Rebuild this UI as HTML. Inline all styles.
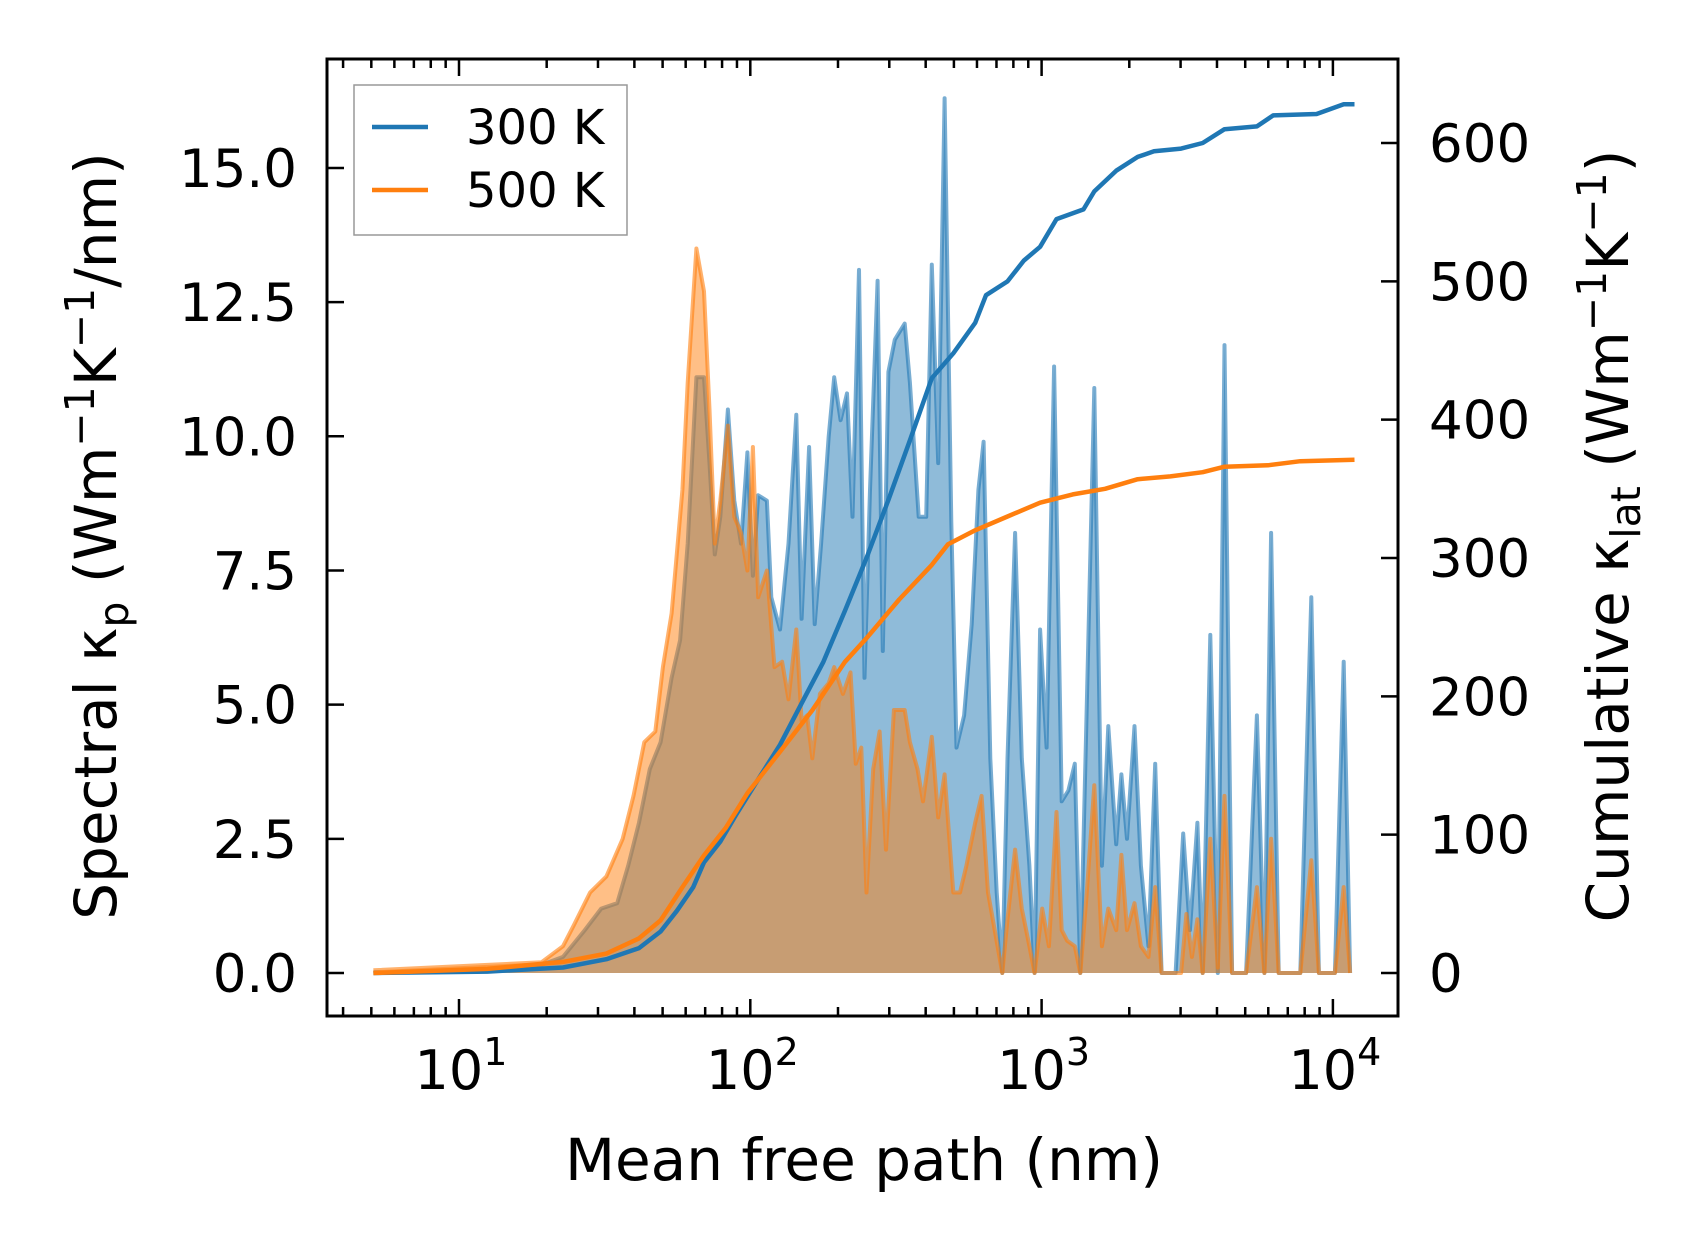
<!DOCTYPE html>
<html><head><meta charset="utf-8"><style>
html,body{margin:0;padding:0;background:#fff;}
svg{display:block;font-family:"DejaVu Sans","Liberation Sans",sans-serif;}
</style></head><body>
<svg id="chart" width="1698" height="1254" viewBox="0 0 1698 1254" xmlns="http://www.w3.org/2000/svg"></svg>
<script>
// ---- data ----
const logMfp300 = [0.706,1.097,1.283,1.357,1.432,1.488,1.543,1.581,1.618,1.655,1.692,1.730,1.759,1.785,1.815,1.841,1.860,1.878,1.897,1.923,1.945,1.968,1.990,2.009,2.027,2.057,2.072,2.102,2.131,2.158,2.176,2.202,2.221,2.243,2.269,2.288,2.310,2.332,2.351,2.373,2.392,2.411,2.437,2.455,2.474,2.496,2.530,2.548,2.578,2.604,2.623,2.645,2.667,2.690,2.708,2.734,2.760,2.783,2.801,2.824,2.846,2.865,2.883,2.909,2.932,2.958,2.976,2.995,3.017,3.043,3.069,3.092,3.114,3.133,3.155,3.181,3.207,3.229,3.256,3.274,3.293,3.319,3.341,3.367,3.390,3.412,3.460,3.486,3.509,3.535,3.553,3.579,3.605,3.628,3.654,3.702,3.739,3.765,3.788,3.814,3.888,3.926,3.952,4.007,4.037,4.059];
const spec300 = [0,0.05,0.15,0.3,0.8,1.2,1.3,2.0,2.8,3.8,4.3,5.5,6.2,8.0,11.1,11.1,9.5,7.8,8.5,10.5,8.8,8.0,9.7,7.4,8.9,8.8,7.0,6.4,8.0,10.4,6.6,9.8,6.5,8.0,10.0,11.1,10.3,10.8,8.5,13.1,5.5,9.0,12.9,6.0,11.2,11.8,12.1,11.0,8.5,8.5,13.2,9.5,16.3,8.4,4.2,4.8,6.5,9.0,9.9,4.0,1.5,0,4.0,8.2,4.0,2.0,0,6.4,4.2,11.3,3.2,3.4,3.9,0,5.0,10.9,2.0,4.6,2.4,3.7,2.5,4.6,2.0,0.5,3.9,0,0,2.6,0.8,2.8,0,6.3,0,11.7,0,0,4.8,0,8.2,0,0,7.0,0,0,5.8,0];
const logMfp500 = [0.706,1.097,1.283,1.357,1.395,1.450,1.506,1.562,1.599,1.636,1.674,1.700,1.730,1.767,1.785,1.815,1.841,1.860,1.878,1.897,1.923,1.945,1.968,1.990,2.009,2.027,2.057,2.083,2.109,2.131,2.158,2.176,2.195,2.213,2.239,2.269,2.288,2.318,2.344,2.362,2.381,2.399,2.422,2.444,2.466,2.493,2.530,2.548,2.574,2.593,2.623,2.645,2.667,2.697,2.720,2.742,2.772,2.794,2.816,2.839,2.865,2.883,2.909,2.932,2.958,2.976,3.002,3.025,3.051,3.069,3.088,3.114,3.133,3.155,3.181,3.207,3.229,3.256,3.274,3.293,3.319,3.341,3.367,3.390,3.412,3.479,3.497,3.516,3.535,3.553,3.579,3.605,3.628,3.654,3.702,3.739,3.765,3.788,3.814,3.888,3.926,3.952,4.007,4.037,4.059];
const spec500 = [0.05,0.15,0.2,0.5,0.9,1.5,1.8,2.5,3.3,4.3,4.5,5.7,6.7,9.0,11.0,13.5,12.7,10.5,8.0,8.8,10.2,8.5,8.2,7.5,9.8,7.0,7.5,5.7,5.8,5.1,6.4,4.7,4.8,4.0,5.2,5.4,5.7,5.2,5.6,3.9,4.2,1.5,3.8,4.5,2.3,4.9,4.9,4.3,3.8,3.2,4.4,2.9,3.7,1.5,1.5,2.0,2.8,3.3,1.5,0.8,0,1.0,2.3,1.2,0.5,0,1.2,0.5,3.0,0.8,0.6,0.5,0,1.5,3.5,0.5,1.2,0.8,2.2,0.8,1.3,0.5,0.3,1.6,0,0,1.1,0.3,1.0,0,2.5,0.1,3.3,0,0,1.6,0,2.5,0,0,2.1,0,0,1.6,0];
const logMfpCum = [0.706,1.097,1.357,1.506,1.618,1.692,1.748,1.804,1.841,1.897,1.953,2.027,2.102,2.176,2.251,2.325,2.399,2.474,2.548,2.623,2.697,2.772,2.809,2.883,2.939,2.995,3.051,3.144,3.181,3.256,3.330,3.386,3.479,3.553,3.628,3.739,3.795,3.944,4.037,4.074];
const cum300 = [0,1,4,10,18,30,45,62,80,95,115,140,165,195,225,262,300,342,385,430,448,470,490,500,515,525,545,552,565,580,590,594,596,600,610,612,620,621,628,628];
const logMfpCum500 = [0.706,1.097,1.357,1.506,1.618,1.692,1.767,1.841,1.916,1.990,2.102,2.213,2.325,2.399,2.511,2.623,2.679,2.772,2.883,2.995,3.107,3.218,3.330,3.442,3.553,3.628,3.777,3.888,4.074];
const cum500 = [0,3,8,14,25,38,62,85,105,130,160,190,225,242,270,295,310,320,330,340,346,350,357,359,362,366,367,370,371];
const yTicksLeft = [0,2.5,5,7.5,10,12.5,15];
const yTickLabelsLeft = ["0.0","2.5","5.0","7.5","10.0","12.5","15.0"];
const yTicksRight = [0,100,200,300,400,500,600];
const xDecades = [1,2,3,4];

// ---- axes ----
const L=327,R=1398,T=59,B=1016;
const X = lg => 459 + (lg-1)*291.3;
const YL = v => 973 - v*53.67;
const YR = v => 973 - v*1.3833;
const svg=document.getElementById('chart');
const NS='http://www.w3.org/2000/svg';
function mk(tag,attrs,parent){const e=document.createElementNS(NS,tag);for(const k in attrs)e.setAttribute(k,attrs[k]);(parent||svg).appendChild(e);return e;}

const plot=mk('g',{});


function areaPath(xs,ys,yf){let d='M'+X(xs[0])+','+yf(0);for(let i=0;i<xs.length;i++)d+=' L'+X(xs[i]).toFixed(1)+','+yf(ys[i]).toFixed(1);d+=' L'+X(xs[xs.length-1])+','+yf(0)+' Z';return d;}
function linePath(xs,ys,yf){let d='';for(let i=0;i<xs.length;i++)d+=(i?' L':'M')+X(xs[i]).toFixed(1)+','+yf(ys[i]).toFixed(1);return d;}

const a3=mk('path',{d:areaPath(logMfp300,spec300,YL),fill:'#1f77b4','fill-opacity':0.5,stroke:'none'},plot);


const l3=mk('path',{d:linePath(logMfp300,spec300,YL),fill:'none',stroke:'#1f77b4','stroke-opacity':0.6,'stroke-width':4,'stroke-linejoin':'round'},plot);


const a5=mk('path',{d:areaPath(logMfp500,spec500,YL),fill:'#ff7f0e','fill-opacity':0.5,stroke:'none'},plot);


const l5=mk('path',{d:linePath(logMfp500,spec500,YL),fill:'none',stroke:'#ff7f0e','stroke-opacity':0.6,'stroke-width':4,'stroke-linejoin':'round'},plot);


const c3=mk('path',{d:linePath(logMfpCum,cum300,YR),fill:'none',stroke:'#1f77b4','stroke-width':4.5,'stroke-linejoin':'round'},plot);


const c5=mk('path',{d:linePath(logMfpCum500,cum500,YR),fill:'none',stroke:'#ff7f0e','stroke-width':4.5,'stroke-linejoin':'round'},plot);



// frame
const fr=mk('rect',{x:L,y:T,width:R-L,height:B-T,fill:'none',stroke:'#000','stroke-width':3});



// x ticks
const xt=mk('g',{stroke:'#000','stroke-width':2.5});


for(let dec=0;dec<=4;dec++){for(let m=1;m<10;m++){const lg=dec+Math.log10(m);const x=X(lg);if(x<L+2||x>R-2)continue;const len=m===1?17:9;mk('line',{x1:x,y1:B,x2:x,y2:B-len},xt);mk('line',{x1:x,y1:T,x2:x,y2:T+len},xt);}}
xDecades.forEach(d=>{const t=mk('text',{x:X(d)+2,y:1089,'font-size':54,'text-anchor':'middle',fill:'#000'});t.textContent='10';const s=mk('tspan',{dy:-24,'font-size':38},t);s.textContent=String(d);});
// left ticks
yTicksLeft.forEach((v,i)=>{mk('line',{x1:L,y1:YL(v),x2:L+17,y2:YL(v),stroke:'#000','stroke-width':2.5});const t=mk('text',{x:297,y:YL(v)+19,'font-size':53,'text-anchor':'end',fill:'#000'});t.textContent=yTickLabelsLeft[i];});
yTicksRight.forEach(v=>{mk('line',{x1:R,y1:YR(v),x2:R-17,y2:YR(v),stroke:'#000','stroke-width':2.5});const t=mk('text',{x:1429,y:YR(v)+19,'font-size':53,'text-anchor':'start',fill:'#000'});t.textContent=String(v);});
</script>
<svg style="position:absolute;left:0;top:0" width="1698" height="1254" xmlns="http://www.w3.org/2000/svg" font-family="DejaVu Sans, Liberation Sans, sans-serif">
<text x="864" y="1180" font-size="58" text-anchor="middle">Mean free path (nm)</text>
<text transform="translate(116,536) rotate(-90)" font-size="58" text-anchor="middle">Spectral κ<tspan font-size="41" dy="12">p</tspan><tspan dy="-12"> (Wm</tspan><tspan font-size="41" dy="-22">−1</tspan><tspan dy="22">K</tspan><tspan font-size="41" dy="-22">−1</tspan><tspan dy="22">/nm)</tspan></text>
<text transform="translate(1628,536) rotate(-90)" font-size="58" text-anchor="middle">Cumulative κ<tspan font-size="41" dy="12">lat</tspan><tspan dy="-12"> (Wm</tspan><tspan font-size="41" dy="-22">−1</tspan><tspan dy="22">K</tspan><tspan font-size="41" dy="-22">−1</tspan><tspan dy="22">)</tspan></text>
<g>
<rect x="354" y="85" width="273" height="150" fill="#fff" fill-opacity="0.8" stroke="#999" stroke-width="1.5"/>
<g><line x1="372" y1="127" x2="428" y2="127" stroke="#1f77b4" stroke-width="4.5"/><text x="466" y="144" font-size="48">300 K</text></g>
<g><line x1="372" y1="190" x2="428" y2="190" stroke="#ff7f0e" stroke-width="4.5"/><text x="466" y="207" font-size="48">500 K</text></g>
</g>
</svg>
</body></html>
